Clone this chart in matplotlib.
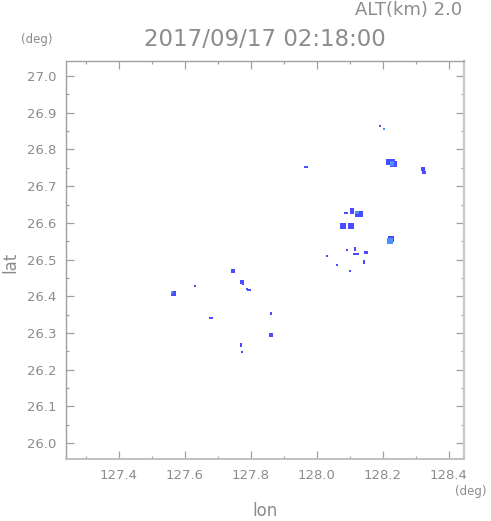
import matplotlib
matplotlib.use("Agg")
import matplotlib.pyplot as plt
from matplotlib.patches import Rectangle
from matplotlib.ticker import MultipleLocator, FormatStrFormatter

plt.rcParams['font.family'] = ['DejaVu Sans']

# Echo cells: centre lon, lat, width (px), height (px), colour class
echo_lon = [128.191, 128.203, 128.222, 128.232, 128.227, 128.321, 128.324,
            128.106, 128.088, 128.127, 128.122, 128.079, 128.103,
            128.224, 128.221, 128.091, 128.115, 128.118, 128.148, 128.030,
            128.061, 128.142, 128.100, 127.745, 127.773, 127.775, 127.788,
            127.794, 127.630, 127.565, 127.561, 127.679, 127.861, 127.861,
            127.770, 127.773, 127.967]
echo_lat = [26.864, 26.856, 26.766, 26.760, 26.762, 26.747, 26.737,
            26.632, 26.627, 26.624, 26.628, 26.591, 26.591,
            26.556, 26.550, 26.526, 26.529, 26.515, 26.520, 26.510,
            26.485, 26.493, 26.469, 26.469, 26.439, 26.434, 26.420,
            26.417, 26.428, 26.408, 26.411, 26.341, 26.354, 26.294,
            26.267, 26.248, 26.752]
echo_w = [1, 2, 8, 7, 4, 3, 3, 4, 3, 7, 3, 5, 5, 6, 5, 2, 1, 5, 3, 1,
          1, 2, 1, 3, 3, 1, 2, 3, 2, 4, 2, 3, 1, 3, 1, 2, 3]
echo_h = [2, 1, 5, 6, 4, 3, 2, 5, 2, 5, 3, 5, 5, 6, 5, 1, 4, 1, 2, 2,
          1, 3, 2, 3, 3, 2, 2, 1, 2, 5, 2, 1, 2, 3, 3, 2, 2]
echo_c = [0, 1, 0, 0, 1, 0, 0, 0, 0, 0, 1, 0, 0, 0, 1, 0, 0, 0, 0, 0,
          0, 0, 0, 0, 0, 0, 0, 0, 0, 0, 1, 0, 0, 0, 0, 0, 0]
palette = ['#4b4bff', '#4a90ff']

x_major = [127.4, 127.6, 127.8, 128.0, 128.2, 128.4]
y_major = [26.0, 26.1, 26.2, 26.3, 26.4, 26.5, 26.6, 26.7, 26.8, 26.9, 27.0]

W, H = 491, 521
fig = plt.figure(figsize=(W / 100, H / 100), dpi=100)
ax = fig.add_axes([66 / W, 1 - 459 / H, 398 / W, 398 / H])
xlim = (127.2394, 128.4455)
ylim = (25.957, 27.0409)
ax.set_xlim(*xlim)
ax.set_ylim(*ylim)

# pixel -> degree scale of the axes
dx = (xlim[1] - xlim[0]) / 398
dy = (ylim[1] - ylim[0]) / 398
for lo, la, w, h, c in zip(echo_lon, echo_lat, echo_w, echo_h, echo_c):
    ww, hh = (w + 0.6) * dx, (h + 0.6) * dy
    ax.add_patch(Rectangle((lo - ww / 2, la - hh / 2), ww, hh,
                           facecolor=palette[c], edgecolor='none', zorder=3))

gray = '#a0a0a0'
tgray = '#8c8c8c'
for sp in ax.spines.values():
    sp.set_color(gray)
    sp.set_linewidth(1.0)
ax.spines['right'].set_color('#c8c8c8')
ax.spines['right'].set_linewidth(1.6)
ax.spines['bottom'].set_color('#c0c0c0')
ax.spines['bottom'].set_linewidth(1.4)

ax.xaxis.set_major_locator(plt.FixedLocator(x_major))
ax.xaxis.set_minor_locator(MultipleLocator(0.1))
ax.yaxis.set_major_locator(plt.FixedLocator(y_major))
ax.yaxis.set_minor_locator(MultipleLocator(0.05))
ax.xaxis.set_major_formatter(FormatStrFormatter('%.1f'))
ax.yaxis.set_major_formatter(FormatStrFormatter('%.1f'))
ax.tick_params(which='both', direction='in', top=True, right=True,
               color=gray, labelcolor=tgray, labelsize=9.5, width=0.9)
ax.tick_params(which='major', length=5.5, pad=7)
ax.tick_params(which='minor', length=2.5)

fig.text(265 / W, 1 - 40 / H, '2017/09/17 02:18:00', ha='center', va='center',
         fontsize=16.5, color=tgray)
fig.text(462 / W, 1 - 10 / H, 'ALT(km) 2.0', ha='right', va='center',
         fontsize=13, color=tgray)
fig.text(37 / W, 1 - 40 / H, '(deg)', ha='center', va='center',
         fontsize=8.5, color=tgray)
fig.text(471 / W, 1 - 492 / H, '(deg)', ha='center', va='center',
         fontsize=8.5, color=tgray)
fig.text(265 / W, 1 - 511 / H, 'lon', ha='center', va='center',
         fontsize=12, color=tgray)
fig.text(10 / W, 1 - 262 / H, 'lat', ha='center', va='center',
         fontsize=12, color=tgray, rotation=90)

fig.savefig('out.png', dpi=100, facecolor='white')
